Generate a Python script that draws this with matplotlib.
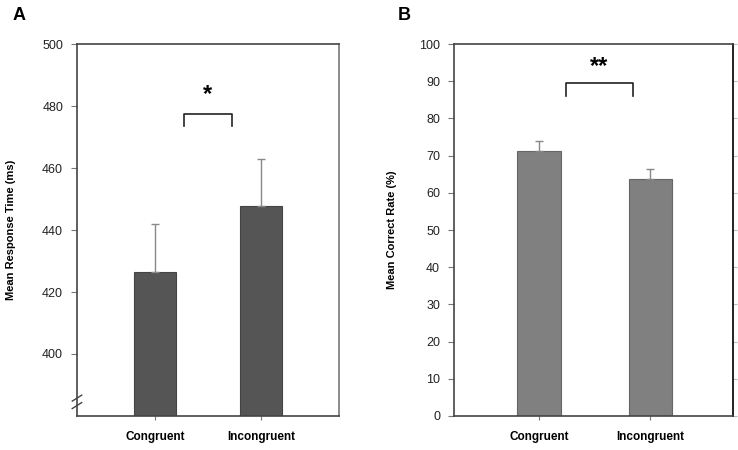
import matplotlib
matplotlib.use('Agg')
import matplotlib.pyplot as plt

# data
conditions = ['Congruent', 'Incongruent']
rt_mean = [426.5, 447.8]
rt_err = [15.4, 15.2]
acc_mean = [71.2, 63.7]
acc_err = [2.7, 2.6]

plt.rcParams['font.family'] = ['Liberation Sans', 'DejaVu Sans']

fig = plt.figure(figsize=(7.38, 4.5), dpi=100)
axA = fig.add_axes([0.1043, 0.0756, 0.355, 0.8264])
axB = fig.add_axes([0.6152, 0.0756, 0.378, 0.8264])

pos = [1, 2]


def style(ax):
    for s in ['left', 'bottom', 'top']:
        ax.spines[s].set_color('#444444')
    ax.spines['right'].set_color('#777777')
    for s in ax.spines.values():
        s.set_linewidth(1.2)
    ax.tick_params(axis='y', direction='out', length=4, color='#777777',
                   labelsize=9, labelcolor='#222222', pad=6)
    ax.tick_params(axis='x', direction='out', length=3, color='#777777',
                   labelsize=8.5, pad=8)
    ax.set_xticks(pos)
    ax.set_xticklabels(conditions, fontweight='bold')


# panel A
axA.bar(pos, rt_mean, width=0.4, color='#555555', edgecolor='#444444',
        linewidth=0.8, bottom=0, zorder=2)
axA.errorbar(pos, rt_mean, yerr=[[0, 0], rt_err], fmt='none',
             ecolor='#888888', elinewidth=1, capsize=3, zorder=3)
axA.set_ylim(380, 500)
axA.set_xlim(0.26, 2.74)
axA.set_yticks([400, 420, 440, 460, 480, 500])
style(axA)
axA.set_ylabel('Mean Response Time (ms)', fontweight='bold', fontsize=8, labelpad=19)
axA.plot([1.27, 1.27, 1.73, 1.73], [473.5, 477.5, 477.5, 473.5], color='#222222', lw=1.2)
axA.text(1.5, 480, '*', ha='center', va='bottom', fontsize=17, fontweight='bold')
# axis break mark
for yb in [0.028, 0.048]:
    axA.plot([-0.018, 0.018], [yb - 0.008, yb + 0.008], transform=axA.transAxes,
             color='#444444', lw=1, clip_on=False)
axA.text(-0.245, 1.065, 'A', transform=axA.transAxes, fontsize=13, fontweight='bold')

# panel B
axB.bar(pos, acc_mean, width=0.39, color='#808080', edgecolor='#666666',
        linewidth=0.8, zorder=2)
axB.errorbar(pos, acc_mean, yerr=[[0, 0], acc_err], fmt='none',
             ecolor='#888888', elinewidth=1, capsize=3, zorder=3)
axB.set_ylim(0, 100)
axB.set_xlim(0.24, 2.74)
axB.set_yticks(range(0, 101, 10))
style(axB)
axB.spines['right'].set_color('#222222')
# faint ticks on the right side
secB = axB.secondary_yaxis('right')
secB.set_yticks(range(0, 101, 10))
secB.tick_params(length=3, color='#bbbbbb', labelright=False)
secB.spines['right'].set_color('#222222')
secB.spines['right'].set_linewidth(1.2)
axB.set_ylabel('Mean Correct Rate (%)', fontweight='bold', fontsize=8, labelpad=16)
axB.plot([1.24, 1.24, 1.84, 1.84], [86, 89.5, 89.5, 86], color='#222222', lw=1.2)
axB.text(1.54, 91, '**', ha='center', va='bottom', fontsize=17, fontweight='bold')
axB.text(-0.2, 1.065, 'B', transform=axB.transAxes, fontsize=13, fontweight='bold')

fig.savefig('out.png', dpi=100)
